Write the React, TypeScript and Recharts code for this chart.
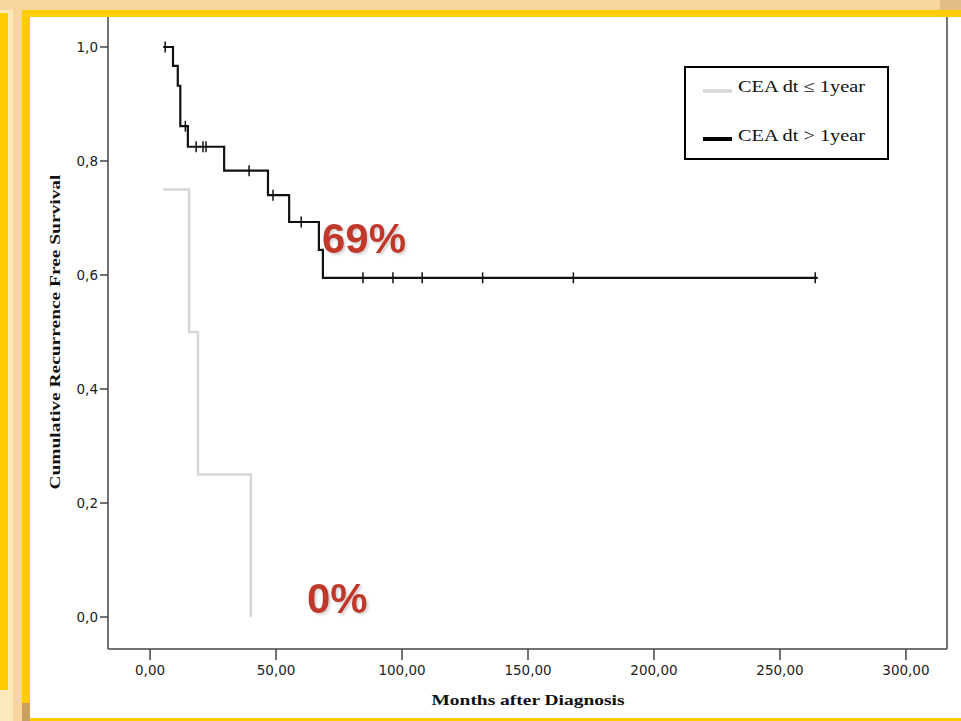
import { ComposedChart, Line, Scatter, XAxis, YAxis, ReferenceLine } from 'recharts'

// CEA doubling time <= 1 year
const shortTimes = [5.2, 15.5, 19, 40]
const shortSurvival = [0.75, 0.5, 0.25, 0]

// CEA doubling time > 1 year
const longTimes = [5.2, 9.1, 11, 12, 15, 29.4, 46.8, 55.2, 67, 68.6, 265]
const longSurvival = [1.0, 0.967, 0.932, 0.861, 0.825, 0.783, 0.74, 0.693, 0.644, 0.595, 0.595]

// censored observations on the > 1 year curve
const censorTimes = [6, 14, 18.3, 21, 22.2, 39.3, 48.8, 60, 84.5, 96.4, 108, 132, 168, 264]
const censorSurvival = [1.0, 0.861, 0.825, 0.825, 0.825, 0.783, 0.74, 0.693, 0.595, 0.595, 0.595, 0.595, 0.595, 0.595]

const xTicks = [0, 50, 100, 150, 200, 250, 300]
const yTicks = [0, 0.2, 0.4, 0.6, 0.8, 1.0]
const seriesNames = ['CEA dt \u2264 1year', 'CEA dt > 1year']
const finalLabels = ['69%', '0%']

const shortData = shortTimes.map((t, i) => ({ t, s: shortSurvival[i] }))
const longData = longTimes.map((t, i) => ({ t, s: longSurvival[i] }))
const censorData = censorTimes.map((t, i) => ({ t, s: censorSurvival[i] }))

const AXIS = '#444'
const YELLOW = '#ffcc00'
const TAN = '#f8d59c'
const CREAM = '#fbe8bb'
const RED = '#c0392b'

function XTick({ x, y, payload }: any) {
  return (
    <text x={x} y={y + 13} textAnchor="middle" fontFamily="DejaVu Sans" fontSize={13.5} fill="#222">
      {Number(payload.value).toFixed(2).replace('.', ',')}
    </text>
  )
}

function YTick({ x, y, payload }: any) {
  return (
    <text x={x} y={y + 5} textAnchor="end" fontFamily="DejaVu Sans" fontSize={13.5} fill="#222">
      {Number(payload.value).toFixed(1).replace('.', ',')}
    </text>
  )
}

function CensorMark({ cx, cy }: any) {
  return <line x1={cx} x2={cx} y1={cy - 5.5} y2={cy + 5.5} stroke="#111" strokeWidth={1.5} />
}

export default function App() {
  return (
    <div style={{ position: 'absolute', left: 0, top: 0, width: 961, height: 721, background: '#fff', overflow: 'hidden' }}>
      <ComposedChart width={961} height={721} margin={{ top: 17, right: 14, bottom: 0, left: 0 }}>
        <XAxis
          type="number"
          dataKey="t"
          domain={[-16.7, 316.3]}
          ticks={xTicks}
          allowDataOverflow
          stroke={AXIS}
          strokeWidth={1.5}
          tickSize={11}
          tickMargin={2}
          tick={<XTick />}
          height={72}
        />
        <YAxis
          type="number"
          dataKey="s"
          domain={[-0.0561, 1.0526]}
          ticks={yTicks}
          allowDataOverflow
          stroke={AXIS}
          strokeWidth={1.5}
          tickSize={8}
          tickMargin={2}
          tick={<YTick />}
          width={108}
        />
        <ReferenceLine x={316.3} stroke={AXIS} strokeWidth={1.5} />
        <Line
          data={shortData}
          dataKey="s"
          type="stepAfter"
          stroke="#d6d6d6"
          strokeWidth={2.5}
          dot={false}
          isAnimationActive={false}
          name={seriesNames[0]}
        />
        <Line
          data={longData}
          dataKey="s"
          type="stepAfter"
          stroke="#111"
          strokeWidth={2.2}
          dot={false}
          isAnimationActive={false}
          name={seriesNames[1]}
        />
        <Scatter data={censorData} dataKey="s" shape={<CensorMark />} isAnimationActive={false} legendType="none" />
      </ComposedChart>

      <svg width={961} height={721} style={{ position: 'absolute', left: 0, top: 0, pointerEvents: 'none' }}>
        <defs>
          <filter id="soft" x="-10%" y="-10%" width="130%" height="140%">
            <feDropShadow dx={2} dy={2} stdDeviation={1} floodColor="#888" floodOpacity={0.35} />
          </filter>
        </defs>
        {/* legend */}
        <g transform="translate(684,66)">
          <rect x={1} y={1} width={203} height={92} fill="#fff" stroke="#000" strokeWidth={2} />
          <line x1={19} x2={48} y1={25} y2={25} stroke="#d6d6d6" strokeWidth={3.5} />
          <text x={54} y={26} fontFamily="Liberation Serif" fontSize={16} fill="#111" textLength={127} lengthAdjust="spacingAndGlyphs">
            {seriesNames[0]}
          </text>
          <line x1={19} x2={48} y1={73} y2={73} stroke="#000" strokeWidth={4} />
          <text x={54} y={75} fontFamily="Liberation Serif" fontSize={16} fill="#111" textLength={127} lengthAdjust="spacingAndGlyphs">
            {seriesNames[1]}
          </text>
        </g>
        <text
          x={528}
          y={705}
          textAnchor="middle"
          fontFamily="Liberation Serif"
          fontWeight="bold"
          fontSize={15}
          fill="#111"
          textLength={193}
          lengthAdjust="spacingAndGlyphs"
        >
          Months after Diagnosis
        </text>
        <text
          transform="translate(60,332) rotate(-90)"
          textAnchor="middle"
          fontFamily="Liberation Serif"
          fontWeight="bold"
          fontSize={15}
          fill="#111"
          textLength={315}
          lengthAdjust="spacingAndGlyphs"
        >
          Cumulative Recurrence Free Survival
        </text>
        {[
          { x: 322, y: 253 },
          { x: 307, y: 613 },
        ].map((p, i) => (
          <text key={i} x={p.x} y={p.y} fontFamily="Liberation Sans" fontWeight="bold" fontSize={42} fill={RED} filter="url(#soft)">
            {finalLabels[i]}
          </text>
        ))}
      </svg>

      {/* slide frame */}
      <div style={{ position: 'absolute', left: 0, top: 0, width: 961, height: 10, background: TAN }} />
      <div style={{ position: 'absolute', left: 940, top: 0, width: 21, height: 10, background: '#e2bd84' }} />
      <div style={{ position: 'absolute', left: 22, top: 10, width: 939, height: 7, background: YELLOW }} />
      <div style={{ position: 'absolute', left: 0, top: 10, width: 8, height: 711, background: CREAM }} />
      <div style={{ position: 'absolute', left: 0, top: 13, width: 8, height: 677, background: YELLOW }} />
      <div style={{ position: 'absolute', left: 8, top: 10, width: 5, height: 711, background: CREAM }} />
      <div style={{ position: 'absolute', left: 13, top: 10, width: 9, height: 711, background: TAN }} />
      <div style={{ position: 'absolute', left: 22, top: 10, width: 8, height: 693, background: YELLOW }} />
      <div style={{ position: 'absolute', left: 22, top: 703, width: 8, height: 18, background: '#c9a060' }} />
      <div style={{ position: 'absolute', left: 30, top: 718, width: 931, height: 3, background: YELLOW }} />
    </div>
  )
}
